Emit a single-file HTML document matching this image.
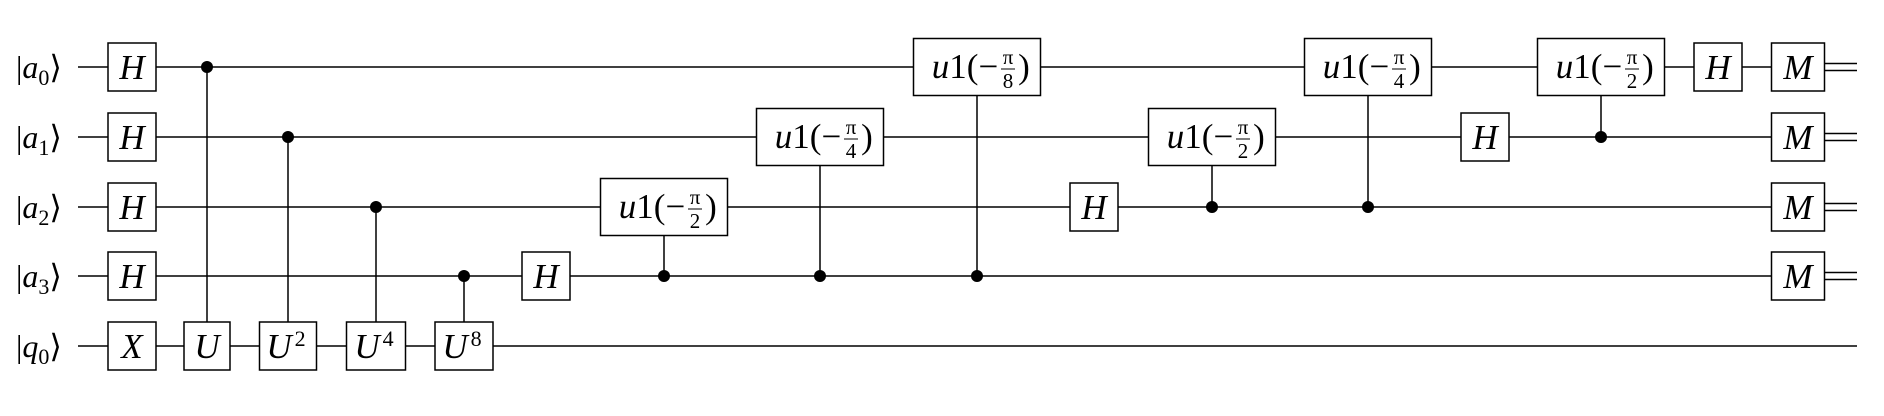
<!DOCTYPE html>
<html><head><meta charset="utf-8"><style>
html,body{margin:0;padding:0;background:#fff;}
svg{display:block;}
text{font-family:"Liberation Serif",serif;fill:#000;}
</style></head><body>
<svg id="c" width="1884" height="416" viewBox="0 0 1884 416"></svg>
<script>
const NS="http://www.w3.org/2000/svg";
const svg=document.getElementById('c');
const wireNames=["a","a","a","a","q"];
const wireSubs=["0","1","2","3","0"];
const wireY=[67,137,207,276,346];
// single gates: wire index, center x, label
const singleWires=[0,1,2,3,4,3,2,1,0];
const singleX=[132,132,132,132,132,546,1094,1485,1718];
const singleLabels=["H","H","H","H","X","H","H","H","H"];
// controlled U gates
const cuCtrl=[0,1,2,3];
const cuX=[207,288,376,464];
const cuW=[46,57,59,58];
const cuPow=["","2","4","8"];
// controlled phase gates
const cpTarget=[2,1,0,1,0,0];
const cpCtrl=[3,3,3,2,2,1];
const cpX=[664,820,977,1212,1368,1601];
const cpDen=["2","4","8","2","4","2"];
const measX=1798;

// wires
for(let i=0;i<5;i++){
  const y=wireY[i];
  const endX=i<4?measX:1857;
  const w=document.createElementNS(NS,'line');
  w.setAttribute('x1',78);w.setAttribute('x2',endX);w.setAttribute('y1',y);w.setAttribute('y2',y);
  w.setAttribute('stroke','#000');w.setAttribute('stroke-width','1.5');
  
  
  svg.appendChild(w);
  const t=document.createElementNS(NS,'text');
  t.setAttribute('x',16);t.setAttribute('y',y+11);t.setAttribute('font-size','32');
  
  
  t.innerHTML='|<tspan font-style="italic">'+wireNames[i]+'</tspan><tspan font-size="22" dy="7">'+wireSubs[i]+'</tspan><tspan dy="-7">⟩</tspan>';
  svg.appendChild(t);
}
function box(cx,cy,w,h,name){
  const r=document.createElementNS(NS,'rect');
  r.setAttribute('x',cx-w/2);r.setAttribute('y',cy-h/2);r.setAttribute('width',w);r.setAttribute('height',h);
  r.setAttribute('fill','#fff');r.setAttribute('stroke','#000');r.setAttribute('stroke-width','1.5');
  
  
  svg.appendChild(r);
}
function dot(cx,cy){
  const c=document.createElementNS(NS,'circle');
  c.setAttribute('cx',cx);c.setAttribute('cy',cy);c.setAttribute('r',6);c.setAttribute('fill','#000');
  
  
  svg.appendChild(c);
}
function vline(x,y1,y2){
  const l=document.createElementNS(NS,'line');
  l.setAttribute('x1',x);l.setAttribute('x2',x);l.setAttribute('y1',y1);l.setAttribute('y2',y2);
  l.setAttribute('stroke','#000');l.setAttribute('stroke-width','1.5');
  
  
  svg.appendChild(l);
}
function txt(x,y,html,size,name){
  const t=document.createElementNS(NS,'text');
  t.setAttribute('x',x);t.setAttribute('y',y);t.setAttribute('font-size',size);t.setAttribute('text-anchor','middle');
  
  
  t.innerHTML=html;svg.appendChild(t);
}
// single gates
for(let i=0;i<singleX.length;i++){
  const y=wireY[singleWires[i]];
  box(singleX[i],y,48,48,'gate-'+singleLabels[i].toLowerCase());
  txt(singleX[i],y+12,'<tspan font-style="italic">'+singleLabels[i]+'</tspan>',35,'gate-label');
}
// controlled U
for(let i=0;i<cuX.length;i++){
  const cy=wireY[cuCtrl[i]],ty=wireY[4];
  vline(cuX[i],cy,ty-24);dot(cuX[i],cy);
  box(cuX[i],ty,cuW[i],48,'gate-u'+cuPow[i]);
  let h='<tspan font-style="italic">U</tspan>';
  if(cuPow[i])h+='<tspan font-size="22" dx="3" dy="-12">'+cuPow[i]+'</tspan>';
  txt(cuX[i]+(cuPow[i]?-2:0),ty+12,h,35,'gate-label');
}
// controlled phase
for(let i=0;i<cpX.length;i++){
  const ty=wireY[cpTarget[i]],cy=wireY[cpCtrl[i]];
  vline(cpX[i],ty+28,cy);dot(cpX[i],cy);
  box(cpX[i],ty,127,57,'gate-u1-pi-'+cpDen[i]);
  const c=cpX[i];
  txt(c-12,ty+11,'<tspan font-style="italic">u</tspan>1(−',35,'gate-label');
  txt(c+31,ty-3,'π',21,'fraction-numerator');
  const fl=document.createElementNS(NS,'line');
  fl.setAttribute('x1',c+24);fl.setAttribute('x2',c+38);fl.setAttribute('y1',ty+2);fl.setAttribute('y2',ty+2);
  fl.setAttribute('stroke','#000');fl.setAttribute('stroke-width','1');
  
  
  svg.appendChild(fl);
  txt(c+31,ty+21,cpDen[i],21,'fraction-denominator');
  txt(c+47,ty+11,')',35,'gate-label');
}
// measurements
for(let i=0;i<4;i++){
  const y=wireY[i];
  for(const d of [-3.5,3.5]){
    const l=document.createElementNS(NS,'line');
    l.setAttribute('x1',measX+26);l.setAttribute('x2',1857);l.setAttribute('y1',y+d);l.setAttribute('y2',y+d);
    l.setAttribute('stroke','#000');l.setAttribute('stroke-width','1.5');
    
    
    svg.appendChild(l);
  }
  box(measX,y,53,48,'measure-gate');
  txt(measX,y+12,'<tspan font-style="italic">M</tspan>',35,'gate-label');
}
</script>
</body></html>
